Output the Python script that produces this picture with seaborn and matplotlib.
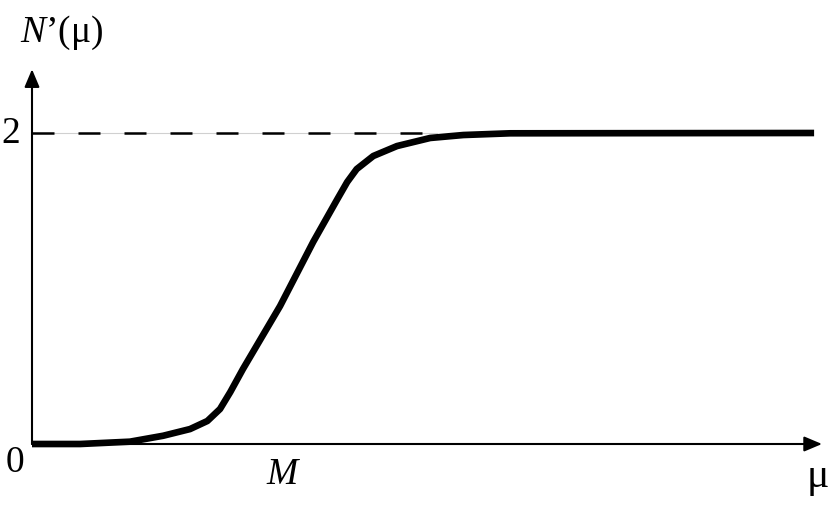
import numpy as np
import pandas as pd
import matplotlib
matplotlib.use("Agg")
import matplotlib.pyplot as plt
import seaborn as sns

# ---- data (x in arbitrary units 0..10, y in units of N') ----
mu = [0.0, 0.61, 1.24, 1.66, 2.00, 2.22, 2.38, 2.51, 2.67, 3.14, 3.56, 3.86,
      3.99, 4.11, 4.32, 4.62, 5.04, 5.46, 6.05, 9.90]
n_prime = [0.0, 0.0, 0.015, 0.053, 0.096, 0.148, 0.225, 0.334, 0.482, 0.887,
           1.30, 1.57, 1.685, 1.768, 1.852, 1.916, 1.968, 1.987, 1.998, 2.0]
asymptote = 2.0
dash_end = 5.13
y_tick_labels = ["0", "2"]
x_label_M = "M"
M_pos = 3.16
x_axis_end = 10.0
y_axis_end = 2.41

df = pd.DataFrame({"mu": mu, "n": n_prime})

sns.set_theme(style="white")
plt.rcParams["font.family"] = ["Liberation Serif", "DejaVu Serif"]
plt.rcParams["text.color"] = "black"
plt.rcParams["mathtext.fontset"] = "custom"
plt.rcParams["mathtext.rm"] = "Liberation Serif"
plt.rcParams["mathtext.it"] = "Liberation Serif:italic"

fig = plt.figure(figsize=(8.31, 5.06), dpi=100)
ax = fig.add_axes([0, 0, 1, 1])
px_x, px_y = 79.0, 155.5
ax.set_xlim(-32 / px_x, (831 - 32) / px_x)
ax.set_ylim(-(506 - 445) / px_y, 445 / px_y)
ax.axis("off")

# asymptote (thin grey under-line plus dashes)
ax.plot([0, dash_end], [asymptote, asymptote], color="#d0d0d0", lw=0.8, zorder=1)
ax.plot([0, dash_end], [asymptote, asymptote], color="black", lw=1.8,
        linestyle=(0, (8.8, 9.6)), solid_capstyle="butt", zorder=2)

# axes with arrows
arrow = dict(arrowstyle="-|>,head_length=0.9,head_width=0.38", color="black",
             lw=1.5, shrinkA=0, shrinkB=0)
ax.annotate("", xy=(x_axis_end, 0), xytext=(0, 0), arrowprops=arrow, zorder=3)
ax.annotate("", xy=(0, y_axis_end), xytext=(0, 0), arrowprops=arrow, zorder=3)

# curve
sns.lineplot(data=df, x="mu", y="n", ax=ax, color="black", lw=4.8,
             sort=False, estimator=None, zorder=4)
ax.lines[-1].set_solid_capstyle("butt")
ax.lines[-1].set_solid_joinstyle("round")

fs = 27
ax.text(-21 / px_x, asymptote, y_tick_labels[1], fontsize=fs, ha="center", va="center")
ax.text(-17 / px_x, -18 / px_y, y_tick_labels[0], fontsize=fs, ha="center", va="center")
ax.text(M_pos, -30 / px_y, x_label_M, fontsize=fs, style="italic", ha="center", va="center")
ax.text((818 - 32) / px_x, -32 / px_y, "μ", fontsize=fs + 3, ha="center", va="center")
ax.text(-12 / px_x, (445 - 42) / px_y, "$\\mathit{N}$’(μ)", fontsize=fs,
        ha="left", va="baseline")

fig.savefig("out.png", dpi=100)
